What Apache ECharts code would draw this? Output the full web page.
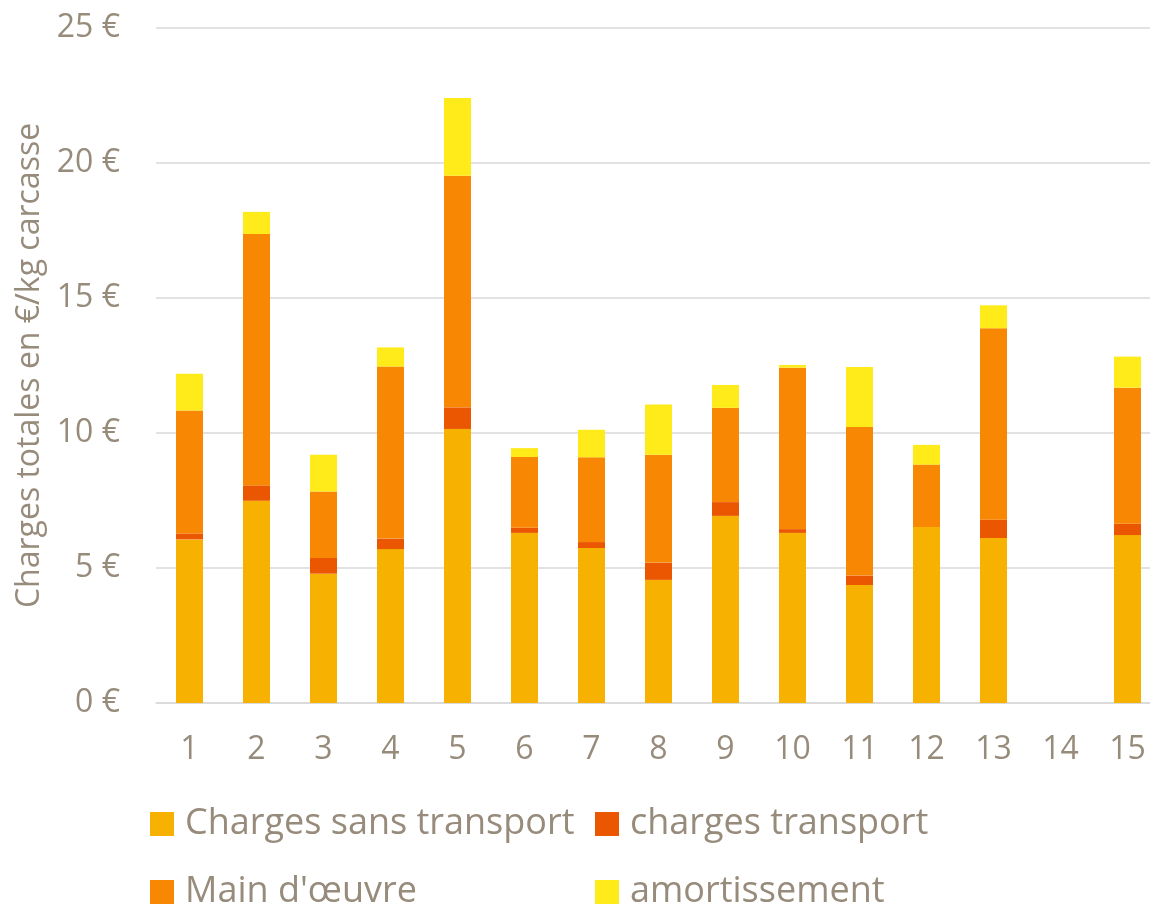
<!DOCTYPE html>
<html>
<head>
<meta charset="utf-8">
<script src="https://cdn.jsdelivr.net/npm/echarts@6/dist/echarts.min.js"></script>
<style>
  html, body { margin: 0; padding: 0; background: #fff; }
  #chart { width: 1150px; height: 907px; }
</style>
</head>
<body>
<div id="chart"></div>
<script>
var categories = ['1', '2', '3', '4', '5', '6', '7', '8', '9', '10', '11', '12', '13', '14', '15'];
// bar 14 has no data
var chargesSansTransport = [6.06, 7.49, 4.79, 5.70, 10.15, 6.30, 5.74, 4.56, 6.93, 6.30, 4.37, 6.52, 6.11, null, 6.22];
var chargesTransport = [0.22, 0.57, 0.58, 0.39, 0.80, 0.19, 0.22, 0.64, 0.51, 0.14, 0.35, null, 0.68, null, 0.42];
var mainOeuvre = [4.55, 9.31, 2.46, 6.37, 8.58, 2.62, 3.14, 3.99, 3.49, 5.98, 5.50, 2.31, 7.09, null, 5.04];
var amortissement = [1.36, 0.82, 1.36, 0.71, 2.88, 0.33, 1.02, 1.87, 0.85, 0.10, 2.22, 0.73, 0.85, null, 1.15];
var yTicks = [0, 5, 10, 15, 20, 25];

var textColor = '#978b7b';
var font = 'Open Sans';

var myChart = echarts.init(document.getElementById('chart'));

function barSeries(name, data, color) {
    return {
        name: name,
        type: 'bar',
        stack: 'total',
        barWidth: 27,
        data: data,
        itemStyle: { color: color }
    };
}

// two columns of legend, like the original
function legendCol(left, names) {
    return {
        orient: 'vertical',
        left: left,
        top: 804,
        height: 120,
        padding: 0,
        itemWidth: 24,
        itemHeight: 24,
        itemGap: 28,
        icon: 'rect',
        textStyle: { color: textColor, fontSize: 36, fontFamily: font, lineHeight: 40, padding: [0, 0, 0, 6] },
        data: names
    };
}

var option = {
    animation: false,
    textStyle: { fontFamily: font },
    grid: { left: 156, right: -11, top: 28, bottom: 204, outerBoundsMode: 'none' },
    legend: [
        legendCol(150, ['Charges sans transport', "Main d'œuvre"]),
        legendCol(595, ['charges transport', 'amortissement'])
    ],
    xAxis: {
        type: 'category',
        data: categories,
        axisTick: { show: false },
        axisLine: { lineStyle: { color: '#d9d9d9', width: 1.5 } },
        axisLabel: { color: textColor, fontSize: 32, fontFamily: font, margin: 31 }
    },
    yAxis: {
        type: 'value',
        min: yTicks[0],
        max: yTicks[yTicks.length - 1],
        interval: 5,
        name: 'Charges totales en €/kg carcasse',
        nameLocation: 'middle',
        nameGap: 110,
        nameTextStyle: { color: textColor, fontSize: 32, fontFamily: font },
        axisLabel: { color: textColor, fontSize: 32, fontFamily: font, margin: 36, formatter: '{value} €' },
        splitLine: { lineStyle: { color: '#d9d9d9', width: 1.5 } }
    },
    series: [
        barSeries('Charges sans transport', chargesSansTransport, '#F7B100'),
        barSeries('charges transport', chargesTransport, '#EB5600'),
        barSeries("Main d'œuvre", mainOeuvre, '#F88704'),
        barSeries('amortissement', amortissement, '#FFEB1A')
    ]
};
myChart.setOption(option);
</script>
</body>
</html>
